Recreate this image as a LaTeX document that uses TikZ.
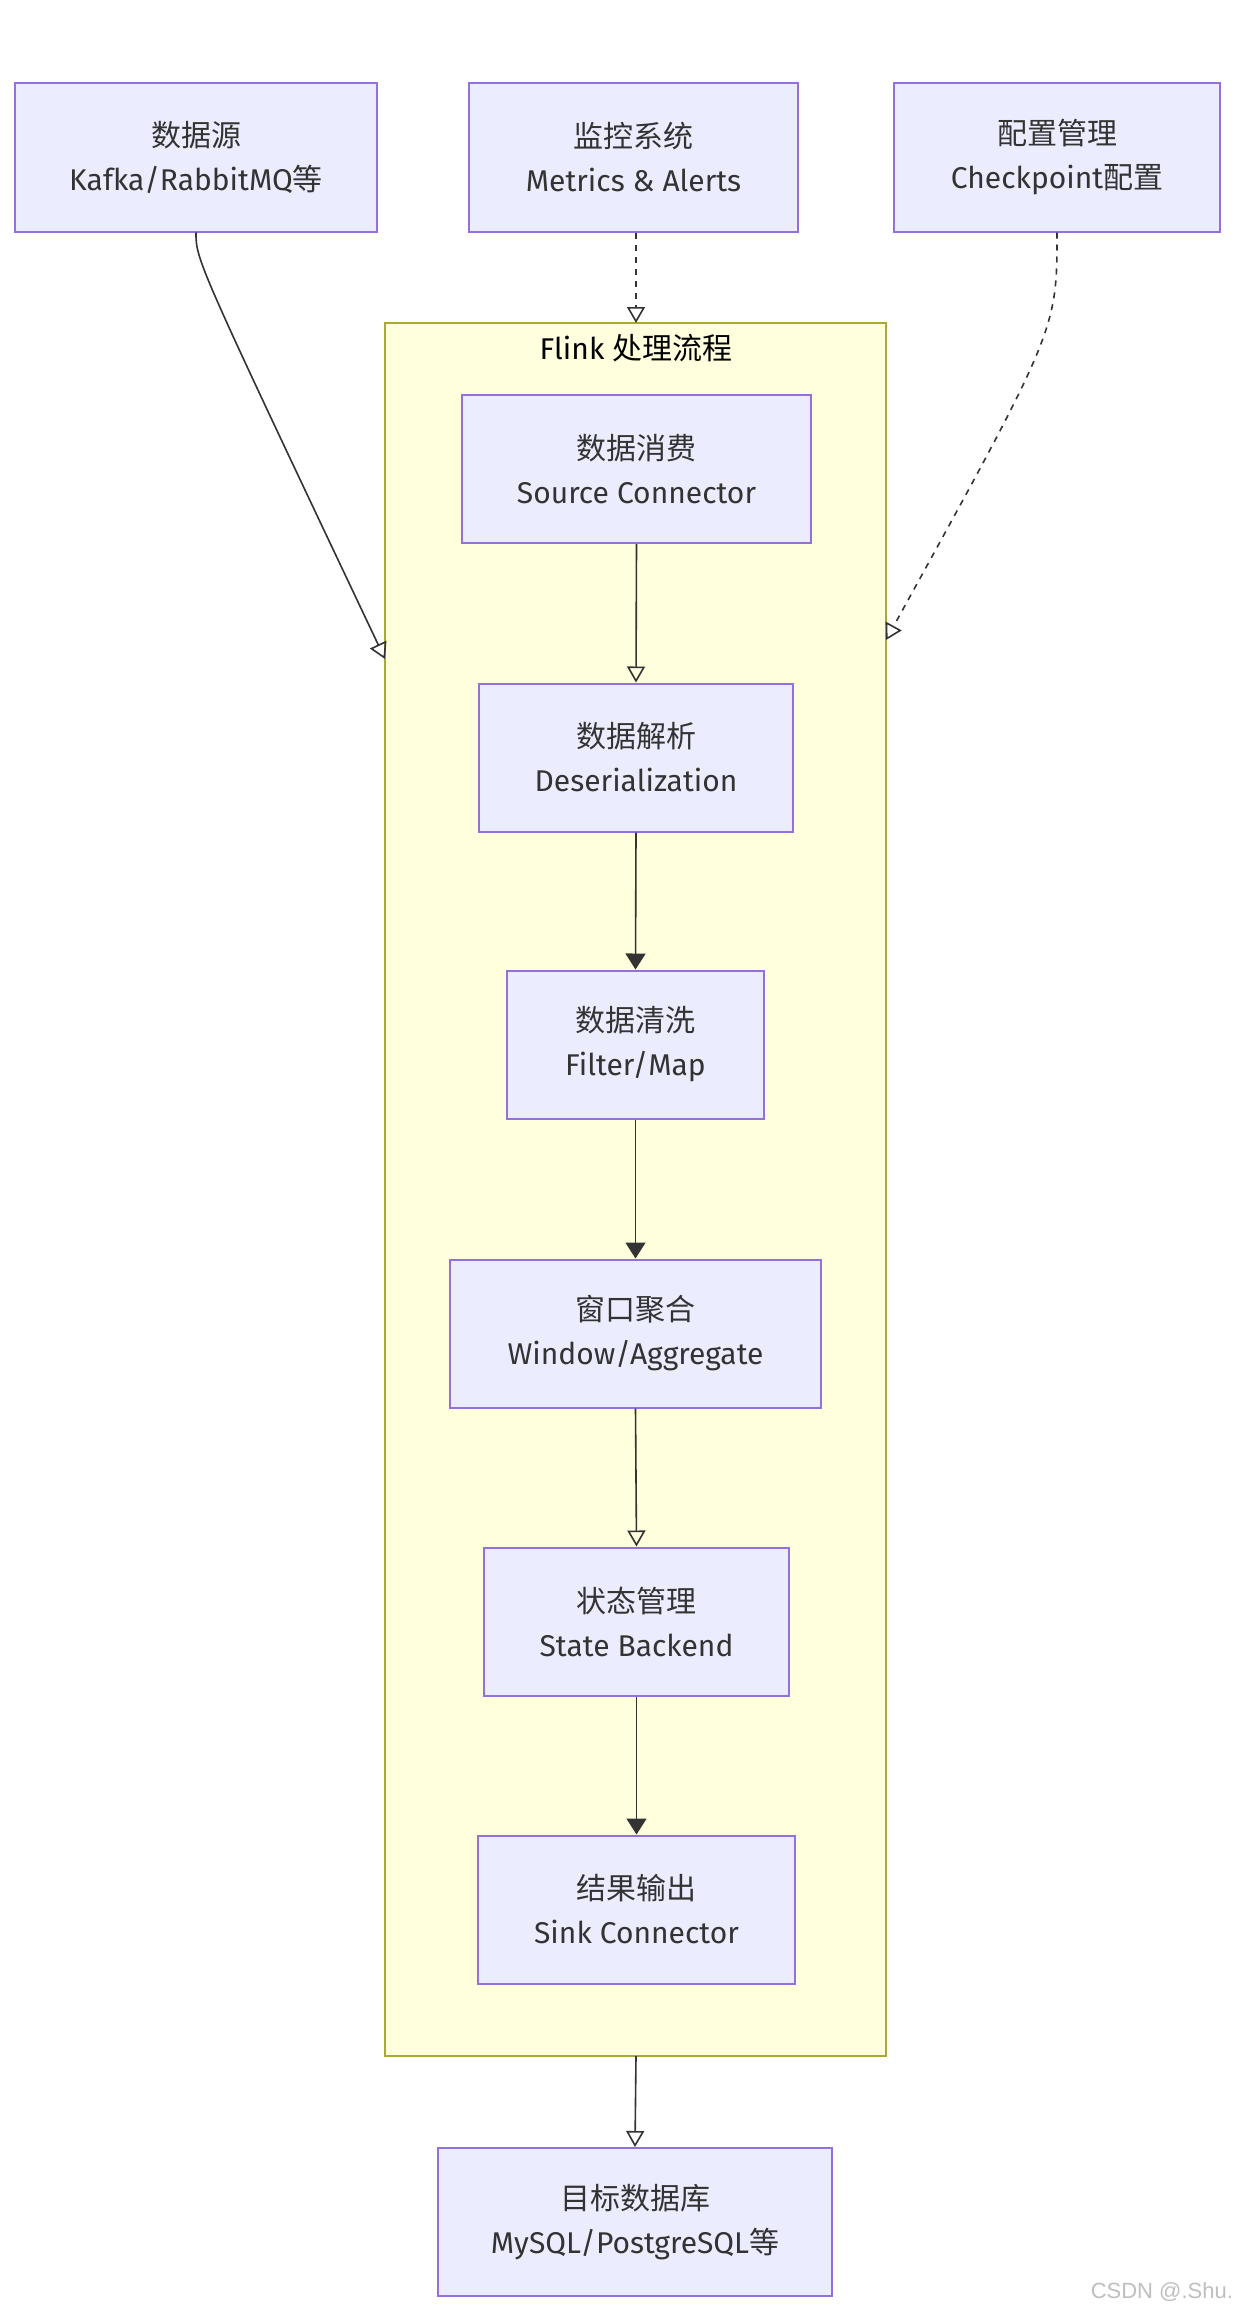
\documentclass[tikz,border=0pt]{standalone}
\usepackage{fontspec}
\setmainfont{Fira Sans}
\newfontfamily\cjk{Noto Sans CJK SC}
\newfontfamily\wm{Liberation Sans}
\usetikzlibrary{arrows.meta}
\definecolor{nodefill}{HTML}{ECECFF}
\definecolor{nodeline}{HTML}{9370DB}
\definecolor{clfill}{HTML}{FFFFDE}
\definecolor{clline}{HTML}{AAAA33}
\definecolor{txt}{HTML}{333333}
\tikzset{
  box/.style={draw=nodeline, fill=nodefill, line width=1pt, text=txt,
    font=\fontsize{15}{22}\selectfont, align=center, inner sep=0pt,
    minimum height=74pt},
  cluster/.style={draw=clline, fill=clfill, line width=1pt, inner sep=0pt},
  conn/.style={draw=txt, line width=0.8pt},
  openhead/.style={-{Triangle[open,length=8pt,width=9pt]}},
  fullhead/.style={-{Triangle[length=8pt,width=10pt]}},
}
\begin{document}
\begin{tikzpicture}[x=0.5pt,y=-0.5pt]
\useasboundingbox (0,0) rectangle (1246,2312);
\fill[white] (0,0) rectangle (1246,2312);

% cluster
\node[cluster, minimum width=250.5pt, minimum height=866.5pt] (cl) at (635.5,1189.5) {};
\node[font=\fontsize{15}{22}\selectfont, text=black] (cltitle) at (636,348) {Flink \cjk{处理流程}};

% top nodes
\node[box, minimum width=181pt] (src) at (196,157.5) {\cjk{数据源}\\Kafka/RabbitMQ\cjk{等}};
\node[box, minimum width=164.5pt] (mon) at (633.5,157.5) {\cjk{监控系统}\\Metrics \& Alerts};
\node[box, minimum width=163pt] (cfg) at (1057,157.5) {\cjk{配置管理}\\Checkpoint\cjk{配置}};

% inner nodes
\node[box, minimum width=174.5pt] (consume) at (636.5,469) {\cjk{数据消费}\\Source Connector};
\node[box, minimum width=157pt] (parse) at (636,757.5) {\cjk{数据解析}\\Deserialization};
\node[box, minimum width=128.5pt] (clean) at (635.5,1044.5) {\cjk{数据清洗}\\Filter/Map};
\node[box, minimum width=185.5pt] (window) at (635.5,1333.5) {\cjk{窗口聚合}\\Window/Aggregate};
\node[box, minimum width=152.5pt] (state) at (636.5,1621.5) {\cjk{状态管理}\\State Backend};
\node[box, minimum width=158.5pt] (sink) at (636.5,1909.5) {\cjk{结果输出}\\Sink Connector};

% target
\node[box, minimum width=197pt] (target) at (635,2222) {\cjk{目标数据库}\\MySQL/PostgreSQL\cjk{等}};

% connector end points on cluster border
\coordinate (srcend) at (385,659);
\coordinate (cfgend) at (886,640);
\coordinate (monend) at (636,323);
\coordinate (clbot) at (636,2056);

% connectors
\draw[conn, openhead] (src.south) .. controls (196,260) .. (srcend);
\draw[conn, openhead, dashed] (mon.south -| monend) -- (monend);
\draw[conn, openhead, dashed] (cfg.south) .. controls (1057,330) .. (cfgend);

\draw[conn, openhead] (consume.south) -- (parse.north);
\draw[conn, fullhead] (parse.south) -- (clean.north);
\draw[conn, fullhead] (clean.south) -- (window.north);
\draw[conn, openhead] (window.south) -- (state.north);
\draw[conn, fullhead] (state.south) -- (sink.north);
\draw[conn, openhead] (clbot) -- (target.north);

% watermark
\node[font=\wm\fontsize{11}{13}\selectfont, text=black!25, anchor=east] (wmark) at (1240,2292) {CSDN @.Shu.};
\end{tikzpicture}
\end{document}
